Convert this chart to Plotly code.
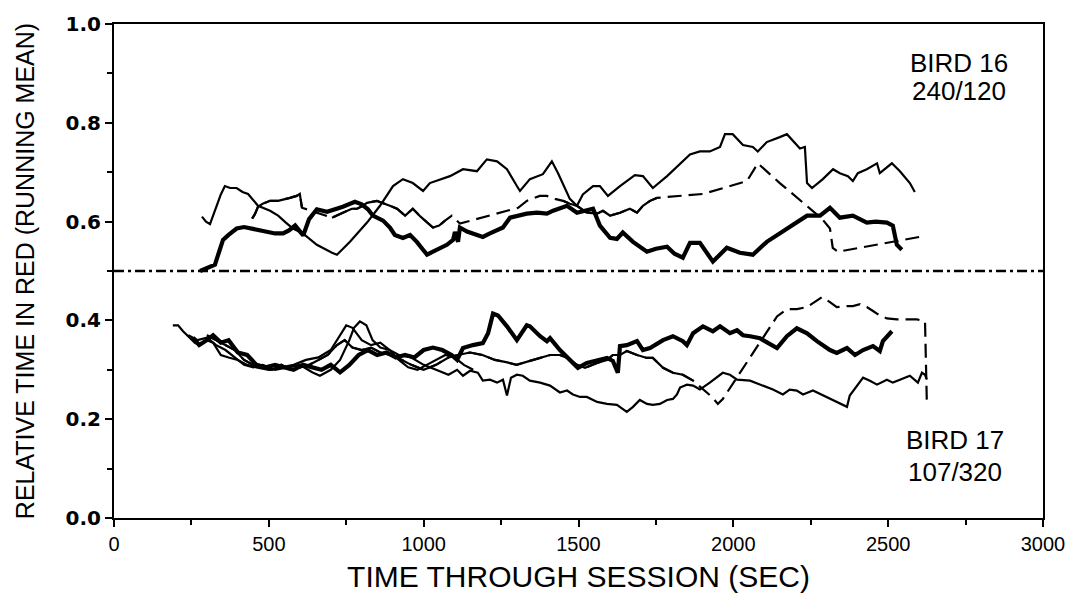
import plotly.graph_objects as go

# ---------------- data (seconds, relative time in red) ----------------
# Bird 16 (240/120)
b16_thick_t = [278, 300, 326, 340, 352, 370, 396, 420, 445, 470, 493, 520, 546, 565, 585, 600, 611, 630, 655, 688, 720, 739, 778, 800, 820, 836, 869, 891, 907, 933, 956, 978, 998, 1011, 1030, 1053, 1075, 1095, 1101, 1111, 1117, 1140, 1172, 1191, 1214, 1237, 1256, 1279, 1301, 1333, 1366, 1398, 1418, 1440, 1463, 1495, 1527, 1547, 1569, 1602, 1624, 1643, 1676, 1721, 1750, 1786, 1810, 1837, 1860, 1892, 1934, 1979, 2021, 2063, 2108, 2140, 2173, 2205, 2238, 2280, 2312, 2344, 2386, 2431, 2460, 2496, 2515, 2528, 2544]
b16_thick_v = [0.50, 0.505, 0.513, 0.54, 0.563, 0.573, 0.586, 0.589, 0.586, 0.582, 0.579, 0.576, 0.576, 0.582, 0.592, 0.58, 0.572, 0.605, 0.625, 0.62, 0.625, 0.63, 0.64, 0.635, 0.625, 0.612, 0.602, 0.588, 0.573, 0.567, 0.573, 0.559, 0.543, 0.533, 0.539, 0.547, 0.553, 0.563, 0.579, 0.559, 0.588, 0.58, 0.573, 0.569, 0.576, 0.582, 0.588, 0.608, 0.612, 0.616, 0.618, 0.616, 0.622, 0.626, 0.632, 0.618, 0.622, 0.626, 0.592, 0.567, 0.565, 0.578, 0.559, 0.539, 0.545, 0.549, 0.535, 0.527, 0.557, 0.557, 0.519, 0.547, 0.537, 0.533, 0.559, 0.572, 0.586, 0.60, 0.612, 0.612, 0.628, 0.608, 0.612, 0.598, 0.60, 0.598, 0.592, 0.553, 0.543]

b16_thin_t = [284, 297, 310, 325, 345, 358, 375, 396, 415, 433, 450, 465, 504, 530, 555, 578, 610, 655, 704, 720, 762, 817, 859, 901, 933, 965, 998, 1020, 1085, 1127, 1172, 1204, 1237, 1269, 1301, 1311, 1343, 1385, 1414, 1434, 1472, 1495, 1514, 1547, 1569, 1595, 1634, 1682, 1708, 1740, 1786, 1828, 1860, 1892, 1924, 1957, 1973, 1998, 2031, 2063, 2079, 2108, 2128, 2150, 2173, 2215, 2231, 2238, 2254, 2273, 2289, 2322, 2344, 2370, 2386, 2402, 2431, 2464, 2473, 2512, 2538, 2570, 2586]
b16_thin_v = [0.61, 0.60, 0.595, 0.62, 0.655, 0.672, 0.668, 0.668, 0.66, 0.656, 0.642, 0.632, 0.622, 0.612, 0.598, 0.586, 0.576, 0.553, 0.537, 0.533, 0.559, 0.598, 0.632, 0.672, 0.686, 0.678, 0.662, 0.678, 0.692, 0.706, 0.702, 0.726, 0.722, 0.706, 0.672, 0.662, 0.686, 0.696, 0.722, 0.698, 0.646, 0.632, 0.655, 0.672, 0.672, 0.652, 0.672, 0.694, 0.692, 0.668, 0.692, 0.716, 0.736, 0.742, 0.742, 0.751, 0.777, 0.777, 0.755, 0.751, 0.742, 0.761, 0.765, 0.771, 0.777, 0.748, 0.751, 0.678, 0.668, 0.678, 0.686, 0.706, 0.698, 0.692, 0.682, 0.698, 0.706, 0.718, 0.698, 0.718, 0.702, 0.678, 0.660]

b16_dash_t = [446, 455, 465, 480, 504, 530, 568, 590, 600, 607, 704, 720, 739, 768, 785, 804, 817, 849, 869, 891, 914, 940, 965, 990, 1030, 1050, 1069, 1091, 1117, 1305, 1333, 1375, 1398, 1424, 1450, 1472, 1495, 1527, 1560, 1579, 1602, 1634, 1666, 1689, 1708, 1731, 1753, 1902, 2044, 2079, 2150, 2238, 2286, 2312, 2321, 2338, 2602]
b16_dash_v = [0.606, 0.615, 0.630, 0.636, 0.642, 0.642, 0.648, 0.652, 0.656, 0.628, 0.608, 0.612, 0.618, 0.626, 0.626, 0.632, 0.638, 0.642, 0.638, 0.632, 0.626, 0.612, 0.626, 0.61, 0.588, 0.592, 0.602, 0.612, 0.596, 0.628, 0.642, 0.652, 0.652, 0.646, 0.642, 0.636, 0.632, 0.618, 0.616, 0.622, 0.612, 0.618, 0.626, 0.618, 0.632, 0.642, 0.648, 0.656, 0.682, 0.718, 0.678, 0.632, 0.606, 0.586, 0.547, 0.539, 0.569]

# Bird 17 (107/320)
b17_thick_t = [255, 275, 300, 320, 345, 370, 400, 430, 460, 490, 520, 550, 580, 610, 640, 670, 700, 730, 760, 790, 820, 850, 880, 910, 940, 970, 1000, 1030, 1060, 1090, 1108, 1127, 1159, 1191, 1208, 1224, 1240, 1269, 1301, 1333, 1343, 1376, 1398, 1408, 1440, 1472, 1498, 1527, 1560, 1592, 1611, 1627, 1634, 1656, 1689, 1708, 1731, 1773, 1805, 1837, 1850, 1870, 1902, 1934, 1957, 1989, 2012, 2031, 2054, 2086, 2096, 2141, 2173, 2205, 2238, 2270, 2312, 2334, 2367, 2393, 2419, 2451, 2473, 2483, 2512]
b17_thick_v = [0.365, 0.35, 0.36, 0.37, 0.355, 0.36, 0.335, 0.33, 0.31, 0.305, 0.31, 0.305, 0.30, 0.31, 0.305, 0.30, 0.31, 0.295, 0.31, 0.33, 0.34, 0.33, 0.335, 0.325, 0.33, 0.325, 0.34, 0.345, 0.34, 0.33, 0.32, 0.344, 0.35, 0.354, 0.374, 0.414, 0.41, 0.388, 0.36, 0.39, 0.388, 0.368, 0.358, 0.364, 0.34, 0.32, 0.304, 0.314, 0.318, 0.324, 0.318, 0.294, 0.348, 0.35, 0.358, 0.34, 0.344, 0.36, 0.368, 0.358, 0.35, 0.374, 0.388, 0.378, 0.388, 0.374, 0.38, 0.37, 0.368, 0.364, 0.36, 0.344, 0.368, 0.384, 0.374, 0.358, 0.34, 0.334, 0.344, 0.33, 0.34, 0.348, 0.338, 0.358, 0.378]

b17_thin1_t = [240, 270, 300, 330, 360, 390, 420, 450, 480, 520, 560, 600, 640, 665, 700, 730, 760, 775, 794, 815, 835, 860, 890, 920, 960, 1000, 1040, 1080, 1108, 1127, 1150, 1175, 1191, 1214, 1237, 1256, 1269, 1282, 1301, 1320, 1343, 1376, 1408, 1440, 1463, 1482, 1505, 1527, 1560, 1592, 1624, 1656, 1676, 1698, 1721, 1740, 1763, 1786, 1805, 1818, 1828, 1850, 1870, 1892, 1924, 1944, 1966, 1989, 2012, 2054, 2096, 2128, 2160, 2182, 2205, 2225, 2257, 2290, 2322, 2367, 2376, 2399, 2419, 2441, 2464, 2496, 2515, 2538, 2570, 2596, 2609, 2619, 2625]
b17_thin1_v = [0.37, 0.36, 0.365, 0.35, 0.34, 0.325, 0.31, 0.305, 0.31, 0.30, 0.305, 0.31, 0.295, 0.288, 0.30, 0.32, 0.36, 0.385, 0.398, 0.39, 0.36, 0.345, 0.34, 0.33, 0.325, 0.31, 0.30, 0.29, 0.30, 0.288, 0.298, 0.294, 0.278, 0.28, 0.274, 0.28, 0.248, 0.284, 0.29, 0.288, 0.278, 0.274, 0.268, 0.254, 0.258, 0.25, 0.245, 0.245, 0.235, 0.231, 0.229, 0.215, 0.225, 0.239, 0.231, 0.229, 0.231, 0.239, 0.241, 0.25, 0.264, 0.27, 0.268, 0.26, 0.274, 0.284, 0.294, 0.29, 0.28, 0.278, 0.268, 0.26, 0.25, 0.26, 0.258, 0.25, 0.258, 0.248, 0.239, 0.225, 0.248, 0.268, 0.284, 0.278, 0.27, 0.28, 0.274, 0.28, 0.288, 0.274, 0.294, 0.29, 0.28]

b17_thin2_t = [190, 207, 223, 245, 262, 278, 300, 320, 345, 370, 400, 430, 460, 500, 540, 580, 620, 660, 700, 730, 750, 770, 800, 830, 860, 890, 920, 950, 980, 1010, 1040, 1070, 1100, 1130, 1160]
b17_thin2_v = [0.39, 0.39, 0.378, 0.364, 0.354, 0.35, 0.36, 0.355, 0.33, 0.325, 0.32, 0.31, 0.305, 0.30, 0.305, 0.31, 0.32, 0.325, 0.34, 0.37, 0.39, 0.385, 0.36, 0.35, 0.355, 0.34, 0.32, 0.305, 0.30, 0.31, 0.32, 0.33, 0.325, 0.31, 0.30]

b17_dash_t = [300, 330, 360, 390, 420, 450, 480, 510, 540, 570, 600, 630, 660, 690, 720, 745, 770, 800, 830, 860, 890, 930, 960, 1000, 1040, 1080, 1110, 1150, 1190, 1230, 1270, 1300, 1343, 1375, 1408, 1440, 1463, 1495, 1521, 1560, 1592, 1611, 1634, 1656, 1689, 1721, 1740, 1773, 1805, 1837, 1870, 1931, 1950, 1966, 2141, 2173, 2205, 2238, 2263, 2286, 2312, 2334, 2367, 2386, 2409, 2431, 2451, 2473, 2496, 2528, 2593, 2619, 2625]
b17_dash_v = [0.37, 0.36, 0.35, 0.34, 0.32, 0.31, 0.305, 0.30, 0.31, 0.30, 0.305, 0.31, 0.32, 0.33, 0.35, 0.36, 0.345, 0.34, 0.345, 0.335, 0.33, 0.32, 0.31, 0.30, 0.31, 0.325, 0.33, 0.335, 0.33, 0.32, 0.315, 0.31, 0.318, 0.324, 0.33, 0.33, 0.324, 0.31, 0.304, 0.314, 0.32, 0.33, 0.33, 0.338, 0.33, 0.324, 0.324, 0.304, 0.294, 0.29, 0.278, 0.245, 0.231, 0.241, 0.408, 0.423, 0.423, 0.427, 0.437, 0.447, 0.437, 0.427, 0.429, 0.429, 0.433, 0.427, 0.419, 0.410, 0.404, 0.402, 0.402, 0.398, 0.229]

x_ticks = [0, 500, 1000, 1500, 2000, 2500, 3000]
y_ticks = [0.0, 0.2, 0.4, 0.6, 0.8, 1.0]
y_tick_text = ["0.0", "0.2", "0.4", "0.6", "0.8", "1.0"]

labels_16 = ["BIRD 16", "240/120"]
labels_17 = ["BIRD 17", "107/320"]

# Parts of the dashed sessions where the old plotter drew densely (looks solid)
b16_dense = [(446, 607), (704, 1069), (1440, 1753)]
b17_dense = [(300, 1870)]

# ---------------- figure ----------------
SANS = "Liberation Sans, Arial, sans-serif"
THIN = 2.2
THICK = 4.2


def dense_part(t, v, ranges):
    xs, ys = [], []
    for lo, hi in ranges:
        for a, b in zip(t, v):
            if lo <= a <= hi:
                xs.append(a)
                ys.append(b)
        xs.append(None)
        ys.append(None)
    return xs, ys


fig = go.Figure()


def add(t, v, width, dash="solid"):
    fig.add_trace(go.Scatter(x=t, y=v, mode="lines",
                             line=dict(color="black", width=width, dash=dash),
                             hoverinfo="skip", showlegend=False))


add(b16_thin_t, b16_thin_v, THIN)
add(b16_dash_t, b16_dash_v, THIN, "14px,7px")
add(*dense_part(b16_dash_t, b16_dash_v, b16_dense), THIN)
add(b16_thick_t, b16_thick_v, THICK)

add(b17_thin1_t, b17_thin1_v, THIN)
add(b17_thin2_t, b17_thin2_v, THIN)
add(b17_dash_t, b17_dash_v, THIN, "14px,7px")
add(*dense_part(b17_dash_t, b17_dash_v, b17_dense), THIN)
add(b17_thick_t, b17_thick_v, THICK)

# chance line at 0.5
fig.add_shape(type="line", xref="paper", yref="y", x0=0, x1=1, y0=0.5, y1=0.5,
              line=dict(color="black", width=2.5, dash="10px,4px,3px,4px"))

for i, txt in enumerate(labels_16):
    fig.add_annotation(x=2730, y=[0.922, 0.864][i], text=txt, showarrow=False,
                       xanchor="center", yanchor="middle",
                       font=dict(family=SANS, size=26, color="black"))
for i, txt in enumerate(labels_17):
    fig.add_annotation(x=2715, y=[0.157, 0.093][i], text=txt, showarrow=False,
                       xanchor="center", yanchor="middle",
                       font=dict(family=SANS, size=26, color="black"))

fig.update_layout(
    width=1077, height=603,
    margin=dict(l=114, r=34, t=15, b=85),
    paper_bgcolor="white", plot_bgcolor="white",
    showlegend=False,
)
fig.update_xaxes(
    range=[0, 3000], tickvals=x_ticks, ticktext=[str(v) for v in x_ticks],
    showgrid=False, zeroline=False,
    showline=True, linecolor="black", linewidth=2, mirror=True,
    ticks="outside", ticklen=7, tickwidth=2, tickcolor="black",
    minor=dict(dtick=250, tick0=0, ticks="outside", ticklen=5, tickwidth=2, tickcolor="black"),
    tickfont=dict(family=SANS, size=20, color="black"),
    title=dict(text="TIME THROUGH SESSION (SEC)", standoff=12,
               font=dict(family=SANS, size=30, color="black")),
)
fig.update_yaxes(
    range=[0, 1.0], tickvals=y_ticks, ticktext=y_tick_text,
    showgrid=False, zeroline=False,
    showline=True, linecolor="black", linewidth=2, mirror=True,
    ticks="outside", ticklen=7, tickwidth=2, tickcolor="black",
    minor=dict(dtick=0.1, tick0=0, ticks="outside", ticklen=5, tickwidth=2, tickcolor="black"),
    tickfont=dict(family="DejaVu Sans", size=20, color="black", weight="bold"),
    title=dict(text="RELATIVE TIME IN RED (RUNNING MEAN)", standoff=24,
               font=dict(family=SANS, size=25, color="black")),
)

fig.write_html("out.html", config={"displayModeBar": False},
               post_script="document.body.style.margin='0';document.body.style.overflow='hidden';")
